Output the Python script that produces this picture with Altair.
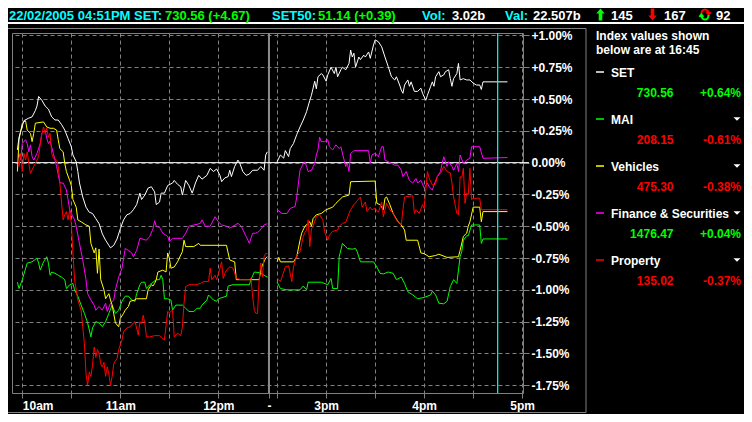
import altair as alt
import pandas as pd

FONT = "Liberation Sans"
BG = "#000000"
GRID = "#808080"

# ---------------- data ----------------
SERIES = ["SET", "MAI", "Vehicles", "Finance & Securities", "Property"]
SERIES_COLORS = ["#ffffff", "#00ff00", "#ffff00", "#ff00ff", "#ff0000"]
LAST_VALUES = ["730.56", "208.15", "475.30", "1476.47", "135.02"]
CHANGES = ["+0.64%", "-0.61%", "-0.38%", "+0.04%", "-0.37%"]

HEADER_DATE = "22/02/2005 04:51PM"
SET_QUOTE = "730.56 (+4.67)"
SET50_QUOTE = "51.14 (+0.39)"
VOLUME = "3.02b"
VALUE = "22.507b"
ADVANCES = "145"
DECLINES = "167"
UNCHANGED = "92"
SNAPSHOT = "16:45"

SET_DATA = [("9:57", .10), ("9:58", .20), ("10:01", .33), ("10:04", .35), ("10:06", .36), ("10:08", .41),
            ("10:09", .445), ("10:10", .52), ("10:12", .49), ("10:14", .445), ("10:16", .42), ("10:18", .36),
            ("10:20", .335), ("10:22", .335), ("10:24", .30), ("10:26", .256), ("10:28", .19), ("10:30", .125),
            ("10:31", .06), ("10:33", .007), ("10:34", -.07), ("10:35", -.16), ("10:37", -.27), ("10:39", -.35),
            ("10:41", -.39), ("10:43", -.40), ("10:45", -.44), ("10:47", -.48), ("10:49", -.56), ("10:51", -.61),
            ("10:53", -.65), ("10:54", -.67), ("10:56", -.65), ("10:58", -.60), ("11:00", -.52), ("11:02", -.45),
            ("11:04", -.41), ("11:06", -.40), ("11:08", -.37), ("11:10", -.33), ("11:12", -.24), ("11:13", -.29),
            ("11:15", -.255), ("11:17", -.20), ("11:19", -.19), ("11:21", -.23), ("11:22", -.33), ("11:24", -.31),
            ("11:25", -.24), ("11:27", -.24), ("11:29", -.18), ("11:32", -.16), ("11:33", -.14), ("11:35", -.17),
            ("11:37", -.19), ("11:38", -.255), ("11:40", -.14), ("11:42", -.18), ("11:44", -.24), ("11:46", -.16),
            ("11:48", -.10), ("11:50", -.13), ("11:53", -.10), ("11:55", -.045), ("11:57", -.07), ("11:59", -.05),
            ("12:01", -.10), ("12:02", -.15), ("12:04", -.12), ("12:06", -.11), ("12:07", -.06), ("12:08", -.11),
            ("12:10", -.03), ("12:12", .02), ("12:13", .00), ("12:15", -.07), ("12:17", -.10), ("12:19", -.09),
            ("12:21", -.06), ("12:24", -.06), ("12:26", -.03), ("12:28", -.06), ("12:29", .06), ("12:30", .085),
            ("14:30", .007), ("14:32", .06), ("14:34", .035), ("14:35", .095), ("14:37", .047), ("14:38", .11),
            ("14:40", .15), ("14:42", .22), ("14:44", .28), ("14:46", .335), ("14:48", .40), ("14:50", .49),
            ("14:51", .53), ("14:53", .64), ("14:54", .58), ("14:55", .675), ("14:57", .70), ("14:58", .69),
            ("15:00", .64), ("15:01", .69), ("15:03", .75), ("15:05", .70), ("15:06", .75), ("15:07", .675),
            ("15:09", .73), ("15:10", .75), ("15:12", .73), ("15:14", .78), ("15:15", .885), ("15:16", .83),
            ("15:17", .86), ("15:18", .75), ("15:20", .83), ("15:21", .81), ("15:23", .845), ("15:24", .83),
            ("15:26", .87), ("15:27", .82), ("15:29", .925), ("15:30", .965), ("15:32", .95), ("15:34", .91),
            ("15:36", .83), ("15:38", .755), ("15:40", .675), ("15:42", .65), ("15:43", .675), ("15:45", .61),
            ("15:46", .57), ("15:47", .545), ("15:48", .61), ("15:50", .65), ("15:51", .60), ("15:52", .635),
            ("15:54", .56), ("15:56", .56), ("15:58", .585), ("15:59", .545), ("16:01", .49), ("16:02", .53),
            ("16:04", .60), ("16:05", .635), ("16:06", .60), ("16:07", .675), ("16:09", .715), ("16:10", .675),
            ("16:12", .69), ("16:13", .715), ("16:15", .73), ("16:16", .66), ("16:17", .60), ("16:18", .66),
            ("16:20", .70), ("16:21", .78), ("16:22", .65), ("16:24", .66), ("16:26", .65), ("16:28", .65),
            ("16:30", .625), ("16:32", .61), ("16:34", .61), ("16:35", .575), ("16:36", .635), ("16:51", .635)]

MAI_DATA = [("9:57", -.94), ("9:58", -.99), ("10:00", -.92), ("10:03", -.79), ("10:06", -.78), ("10:09", -.75),
            ("10:10", -.79), ("10:11", -.845), ("10:13", -.78), ("10:15", -.74), ("10:16", -.79), ("10:17", -.885),
            ("10:18", -.86), ("10:20", -.87), ("10:22", -.885), ("10:24", -.90), ("10:26", -.92), ("10:27", -.99),
            ("10:29", -.96), ("10:31", -.95), ("10:32", -1.0), ("10:34", -1.05), ("10:36", -1.12), ("10:38", -1.185),
            ("10:40", -1.26), ("10:42", -1.37), ("10:43", -1.30), ("10:45", -1.25), ("10:47", -1.26), ("10:49", -1.29),
            ("10:51", -1.25), ("10:53", -1.185), ("10:55", -1.12), ("10:57", -1.185), ("10:59", -1.16), ("11:01", -1.09),
            ("11:03", -1.05), ("11:05", -1.05), ("11:07", -1.08), ("11:09", -1.09), ("11:10", -1.03), ("11:12", -.96),
            ("11:13", -.94), ("11:15", -.94), ("11:16", -.99), ("11:18", -.96), ("11:20", -.94), ("11:22", -.92),
            ("11:24", -.92), ("11:25", -.885), ("11:26", -.92), ("11:27", -1.07), ("11:29", -1.07), ("11:31", -1.08),
            ("11:32", -1.16), ("11:34", -1.12), ("11:38", -1.12), ("11:40", -1.145), ("11:42", -1.17), ("11:45", -1.17),
            ("11:47", -1.145), ("11:49", -1.145), ("11:50", -1.12), ("11:53", -1.08), ("11:54", -1.04), ("11:57", -1.08),
            ("11:59", -1.09), ("12:00", -1.07), ("12:05", -1.05), ("12:06", -.97), ("12:09", -.96), ("12:19", -.96),
            ("12:20", -.92), ("12:22", -.86), ("12:25", -.865), ("12:28", -.885), ("12:30", -.90),
            ("14:30", -.94), ("14:32", -.99), ("14:36", -1.0), ("14:44", -1.0), ("14:46", -.97), ("14:48", -1.0),
            ("14:49", -.94), ("14:57", -.94), ("15:01", -.96), ("15:03", -.91), ("15:04", -.99), ("15:07", -.99),
            ("15:08", -.74), ("15:10", -.635), ("15:13", -.675), ("15:16", -.68), ("15:18", -.675), ("15:19", -.70),
            ("15:21", -.78), ("15:29", -.78), ("15:31", -.82), ("15:33", -.87), ("15:35", -.875), ("15:38", -.86),
            ("15:41", -.87), ("15:43", -.92), ("15:46", -.90), ("15:48", -.95), ("15:50", -1.015), ("15:53", -1.04),
            ("15:56", -1.07), ("16:00", -1.06), ("16:04", -1.04), ("16:05", -1.01), ("16:07", -1.04), ("16:09", -1.105),
            ("16:12", -1.11), ("16:14", -1.09), ("16:16", -.975), ("16:18", -.92), ("16:20", -.95), ("16:22", -.74),
            ("16:23", -.70), ("16:24", -.61), ("16:26", -.575), ("16:27", -.575), ("16:29", -.49), ("16:34", -.49),
            ("16:35", -.635), ("16:36", -.60), ("16:51", -.60)]

VEH_DATA = [("9:57", -.07), ("9:58", .18), ("10:00", .31), ("10:02", .33), ("10:03", .256), ("10:05", .23),
            ("10:06", .165), ("10:07", .23), ("10:08", .31), ("10:13", .32), ("10:15", .28), ("10:17", .27),
            ("10:19", .27), ("10:21", .256), ("10:22", .18), ("10:23", .11), ("10:25", .085), ("10:26", -.006),
            ("10:27", -.07), ("10:29", -.14), ("10:30", -.18), ("10:31", -.29), ("10:33", -.35), ("10:34", -.45),
            ("10:36", -.465), ("10:39", -.49), ("10:41", -.50), ("10:42", -.635), ("10:44", -.71), ("10:45", -.67),
            ("10:46", -.87), ("10:47", -.68), ("10:48", -.92), ("10:50", -1.0), ("10:51", -1.07), ("10:53", -1.03),
            ("10:54", -1.08), ("10:55", -1.12), ("10:57", -1.26), ("10:59", -1.29), ("11:00", -1.225), ("11:02", -1.185),
            ("11:03", -1.16), ("11:05", -1.13), ("11:06", -1.09), ("11:09", -1.08), ("11:10", -1.07), ("11:16", -1.07),
            ("11:17", -1.0), ("11:19", -.96), ("11:20", -.97), ("11:21", -.95), ("11:22", -.92), ("11:23", -.86),
            ("11:26", -.845), ("11:28", -.86), ("11:29", -.71), ("11:30", -.75), ("11:31", -.83), ("11:33", -.82),
            ("11:35", -.78), ("11:38", -.70), ("11:39", -.61), ("11:40", -.66), ("11:45", -.66), ("11:48", -.635),
            ("11:49", -.65), ("12:05", -.65), ("12:06", -.71), ("12:07", -.765), ("12:10", -.78), ("12:11", -.92),
            ("12:25", -.92), ("12:26", -.845), ("12:27", -.805), ("12:29", -.75), ("12:30", -.74),
            ("14:30", -.78), ("14:31", -.745), ("14:32", -.78), ("14:40", -.78), ("14:42", -.74), ("14:44", -.61),
            ("14:45", -.555), ("14:47", -.50), ("14:50", -.465), ("14:51", -.50), ("14:52", -.44), ("14:54", -.41),
            ("14:57", -.40), ("15:00", -.37), ("15:04", -.35), ("15:06", -.32), ("15:10", -.27), ("15:14", -.255),
            ("15:15", -.15), ("15:30", -.145), ("15:31", -.32), ("15:33", -.33), ("15:35", -.37), ("15:36", -.28),
            ("15:37", -.27), ("15:39", -.33), ("15:41", -.40), ("15:44", -.465), ("15:46", -.49), ("15:48", -.53),
            ("15:49", -.61), ("15:56", -.61), ("15:58", -.71), ("16:00", -.715), ("16:03", -.74), ("16:07", -.73),
            ("16:09", -.72), ("16:14", -.745), ("16:21", -.74), ("16:22", -.69), ("16:24", -.58), ("16:26", -.555),
            ("16:27", -.50), ("16:28", -.465), ("16:30", -.35), ("16:34", -.35), ("16:35", -.465), ("16:36", -.385),
            ("16:51", -.385)]

FIN_DATA = [("9:57", .02), ("9:58", .07), ("9:59", .02), ("10:00", .15), ("10:02", .18), ("10:03", .15),
            ("10:04", .085), ("10:05", .14), ("10:06", .046), ("10:07", .02), ("10:09", .073), ("10:11", .15),
            ("10:12", .23), ("10:14", .256), ("10:15", .19), ("10:16", .15), ("10:17", .17), ("10:19", .073),
            ("10:20", .02), ("10:21", -.03), ("10:23", -.16), ("10:25", -.16), ("10:27", -.215), ("10:28", -.29),
            ("10:29", -.37), ("10:30", -.40), ("10:32", -.45), ("10:33", -.50), ("10:35", -.635), ("10:37", -.765),
            ("10:39", -.92), ("10:40", -1.03), ("10:42", -1.08), ("10:44", -1.12), ("10:45", -1.16), ("10:47", -1.13),
            ("10:49", -1.16), ("10:51", -1.105), ("10:52", -1.17), ("10:54", -1.105), ("10:56", -1.08), ("10:57", -1.0),
            ("10:59", -.90), ("11:01", -.83), ("11:03", -.675), ("11:05", -.69), ("11:07", -.71), ("11:08", -.74),
            ("11:10", -.69), ("11:12", -.595), ("11:16", -.61), ("11:18", -.58), ("11:20", -.52), ("11:21", -.457),
            ("11:22", -.50), ("11:24", -.51), ("11:26", -.555), ("11:29", -.58), ("11:30", -.62), ("11:32", -.595),
            ("11:38", -.595), ("11:40", -.555), ("11:42", -.50), ("11:45", -.49), ("11:47", -.485), ("11:49", -.477),
            ("11:50", -.45), ("11:52", -.50), ("11:55", -.50), ("11:58", -.425), ("12:00", -.465), ("12:02", -.49),
            ("12:05", -.50), ("12:07", -.515), ("12:09", -.50), ("12:12", -.477), ("12:14", -.50), ("12:17", -.58),
            ("12:19", -.635), ("12:21", -.555), ("12:23", -.555), ("12:25", -.54), ("12:28", -.49), ("12:30", -.48),
            ("14:30", -.37), ("14:33", -.40), ("14:36", -.40), ("14:38", -.36), ("14:41", -.345), ("14:42", -.27),
            ("14:44", -.06), ("14:46", -.006), ("14:47", .007), ("14:48", -.03), ("14:49", -.07), ("14:51", -.06),
            ("14:53", -.006), ("14:54", .06), ("14:55", .10), ("14:56", .20), ("14:57", .165), ("14:59", .165),
            ("15:01", .18), ("15:02", .125), ("15:04", .10), ("15:05", .12), ("15:06", .14), ("15:08", .11),
            ("15:09", .125), ("15:11", .02), ("15:12", -.03), ("15:13", -.006), ("15:14", -.07), ("15:15", .073),
            ("15:17", .094), ("15:26", .094), ("15:27", -.006), ("15:28", .06), ("15:30", .073), ("15:32", .046),
            ("15:34", .125), ("15:35", .125), ("15:36", .02), ("15:38", .007), ("15:40", -.006), ("15:42", -.02),
            ("15:44", -.02), ("15:46", -.06), ("15:47", -.11), ("15:49", -.07), ("15:51", -.14), ("15:53", -.16),
            ("15:55", -.125), ("15:56", -.16), ("15:58", -.14), ("16:00", -.20), ("16:02", -.16), ("16:03", -.19),
            ("16:05", -.215), ("16:06", -.176), ("16:08", -.11), ("16:10", -.07), ("16:11", -.006), ("16:12", .046),
            ("16:14", -.03), ("16:15", .007), ("16:17", -.03), ("16:18", -.06), ("16:20", -.006), ("16:21", -.07),
            ("16:22", .06), ("16:24", -.006), ("16:26", .02), ("16:28", .034), ("16:29", .125), ("16:34", .125),
            ("16:36", .034), ("16:51", .04)]

PROP_DATA = [("9:57", .046), ("9:58", -.03), ("9:59", .073), ("10:00", -.07), ("10:01", .073), ("10:02", .02),
             ("10:03", .085), ("10:04", -.006), ("10:05", -.085), ("10:07", -.03), ("10:09", .02), ("10:10", .046),
             ("10:11", .15), ("10:12", .23), ("10:13", .28), ("10:14", .23), ("10:15", .27), ("10:16", .20),
             ("10:17", .23), ("10:18", .073), ("10:19", .034), ("10:21", .02), ("10:22", -.03), ("10:23", -.16),
             ("10:24", -.31), ("10:25", -.45), ("10:26", -.41), ("10:27", -.385), ("10:28", -.45), ("10:29", -.37),
             ("10:30", -.477), ("10:31", -.71), ("10:32", -.92), ("10:33", -1.0), ("10:34", -1.08), ("10:36", -1.16),
             ("10:37", -1.29), ("10:38", -1.42), ("10:39", -1.66), ("10:40", -1.75), ("10:41", -1.645), ("10:42", -1.68),
             ("10:43", -1.59), ("10:44", -1.45), ("10:45", -1.53), ("10:46", -1.47), ("10:47", -1.50), ("10:48", -1.58),
             ("10:49", -1.605), ("10:50", -1.57), ("10:51", -1.68), ("10:52", -1.605), ("10:53", -1.66), ("10:54", -1.75),
             ("10:55", -1.68), ("10:56", -1.58), ("10:58", -1.54), ("10:59", -1.47), ("11:01", -1.395), ("11:02", -1.33),
             ("11:04", -1.30), ("11:06", -1.29), ("11:08", -1.26), ("11:09", -1.25), ("11:10", -1.30), ("11:11", -1.355),
             ("11:12", -1.25), ("11:13", -1.27), ("11:14", -1.20), ("11:15", -1.26), ("11:16", -1.37), ("11:18", -1.37),
             ("11:21", -1.36), ("11:24", -1.36), ("11:25", -1.37), ("11:27", -1.395), ("11:28", -1.28), ("11:29", -1.17),
             ("11:30", -1.18), ("11:32", -1.16), ("11:33", -1.37), ("11:35", -1.34), ("11:37", -1.36), ("11:38", -1.29),
             ("11:39", -1.105), ("11:40", -.975), ("11:42", -.96), ("11:46", -.96), ("11:49", -.95), ("11:51", -.935),
             ("11:54", -.935), ("11:55", -.83), ("11:56", -.92), ("11:58", -.885), ("11:59", -.92), ("12:01", -.83),
             ("12:02", -.78), ("12:03", -.91), ("12:04", -.87), ("12:05", -.845), ("12:07", -.82), ("12:09", -.83),
             ("12:11", -.91), ("12:14", -.92), ("12:19", -.92), ("12:20", -.91), ("12:21", -1.05), ("12:22", -1.16),
             ("12:23", -1.185), ("12:24", -1.185), ("12:25", -.92), ("12:26", -.79), ("12:27", -.90), ("12:28", -.74),
             ("12:29", -.715), ("12:30", -.715),
             ("14:30", -.91), ("14:32", -.935), ("14:34", -.86), ("14:35", -.82), ("14:37", -.81), ("14:39", -.935),
             ("14:40", -.82), ("14:42", -.73), ("14:44", -.70), ("14:46", -.58), ("14:47", -.55), ("14:48", -.53),
             ("14:49", -.45), ("14:50", -.66), ("14:51", -.52), ("14:52", -.50), ("14:54", -.425), ("14:56", -.41),
             ("14:58", -.45), ("14:59", -.54), ("15:01", -.61), ("15:02", -.57), ("15:04", -.54), ("15:07", -.53),
             ("15:08", -.50), ("15:10", -.477), ("15:12", -.47), ("15:14", -.40), ("15:15", -.37), ("15:17", -.33),
             ("15:19", -.30), ("15:21", -.27), ("15:22", -.35), ("15:24", -.31), ("15:25", -.385), ("15:27", -.35),
             ("15:28", -.37), ("15:30", -.36), ("15:32", -.39), ("15:34", -.31), ("15:35", -.425), ("15:37", -.32),
             ("15:39", -.37), ("15:41", -.40), ("15:43", -.45), ("15:46", -.49), ("15:47", -.37), ("15:48", -.27),
             ("15:53", -.26), ("15:54", -.40), ("15:55", -.37), ("15:57", -.40), ("15:59", -.33), ("16:00", -.36),
             ("16:02", -.07), ("16:03", -.12), ("16:05", -.176), ("16:07", -.17), ("16:08", -.11), ("16:10", -.085),
             ("16:12", -.03), ("16:14", -.07), ("16:16", -.08), ("16:17", -.16), ("16:18", -.27), ("16:20", -.40),
             ("16:21", -.41), ("16:22", -.11), ("16:23", -.12), ("16:24", -.045), ("16:25", -.32), ("16:26", -.24),
             ("16:27", -.25), ("16:28", -.045), ("16:29", -.29), ("16:30", -.28), ("16:34", -.28), ("16:35", -.37),
             ("16:51", -.37)]

SERIES_DATA = [SET_DATA, MAI_DATA, VEH_DATA, FIN_DATA, PROP_DATA]
DRAW_ORDER = [1, 3, 2, 4, 0]

X_TICK_TIMES = ["10:00", "10:30", "11:00", "11:30", "12:00", "12:31", "14:30", "15:00",
                "15:30", "16:00", "16:30", "17:00"]
X_TICK_LABELS = ["10am", "", "11am", "", "12pm", "-", "", "3pm", "", "4pm", "", "5pm"]
Y_TICKS = [1.0, 0.75, 0.5, 0.25, 0.0, -0.25, -0.5, -0.75, -1.0, -1.25, -1.5, -1.75]

AFTERNOON_START = 156  # axis minute where the 14:30 session is drawn (lunch break compressed)


def axis_minute(t):
    h, m = (int(p) for p in t.split(":"))
    tot = h * 60 + m
    if h < 13:
        return tot - 600
    return tot - 870 + AFTERNOON_START


def series_frame(name, data):
    rows = []
    for i, (t, v) in enumerate(data):
        rows.append({"series": name, "t": axis_minute(t), "v": v,
                     "session": "am" if int(t.split(":")[0]) < 13 else "pm", "idx": i})
    return pd.DataFrame(rows)


# ---------------- layout helpers (page px -> view px) ----------------
VIEW_LEFT, VIEW_TOP, VIEW_W, VIEW_H = 12, 33, 511, 360


def vx(px):
    return px - VIEW_LEFT


def vy(py):
    return py - VIEW_TOP


ONE = pd.DataFrame({"a": [0]})


def text(s, px, py, color, size=12, align="left", baseline="alphabetic"):
    return alt.Chart(pd.DataFrame({"s": [s]})).mark_text(
        align=align, baseline=baseline, font=FONT, fontWeight="bold", fontSize=size, color=color
    ).encode(x=alt.value(vx(px)), y=alt.value(vy(py)), text="s:N")


def hline(px1, px2, py, color, width=1.0):
    return alt.Chart(ONE).mark_rule(color=color, strokeWidth=width).encode(
        x=alt.value(vx(px1)), x2=alt.value(vx(px2)), y=alt.value(vy(py)))


def symbol(path, px, py, color, size, filled=True, sw=1.0):
    return alt.Chart(ONE).mark_point(shape=path, size=size, filled=filled, color=color,
                                     opacity=1, strokeWidth=sw).encode(
        x=alt.value(vx(px)), y=alt.value(vy(py)))


# ---------------- scales / axes ----------------
x_label_expr = " : ".join(
    f"datum.value == {axis_minute(t)} ? '{lab}'" for t, lab in zip(X_TICK_TIMES, X_TICK_LABELS)
) + " : ''"

x_axis = alt.Axis(
    values=[axis_minute(t) for t in X_TICK_TIMES], labelExpr=x_label_expr, grid=True,
    gridColor=GRID, gridDash=[4, 3], gridWidth=1, tickColor=GRID, tickSize=5, domain=False,
    labelColor="#ffffff", labelFont=FONT, labelFontSize=12, labelFontWeight="bold", labelPadding=2,
    labelAlign=alt.condition("datum.value == 0", alt.value("left"), alt.value("center")),
    labelOverlap=False, title=None)

y_axis = alt.Axis(
    orient="right", values=Y_TICKS,
    labelExpr="(datum.value > 0.001 ? '+' : (datum.value < -0.001 ? '-' : '')) + format(abs(datum.value), '.2f') + '%'",
    grid=True, gridColor=GRID, gridDash=[4, 3], gridWidth=1, tickColor=GRID, tickSize=6, domain=False,
    labelColor="#ffffff", labelFont=FONT, labelFontSize=12, labelFontWeight="bold", labelPadding=2,
    labelOverlap=False, title=None)

X = alt.X("t:Q", scale=alt.Scale(domain=[-6.3, 306.5], nice=False, zero=False), axis=x_axis)
Y = alt.Y("v:Q", scale=alt.Scale(domain=[-1.811, 1.019], nice=False, zero=False), axis=y_axis)

layers = []

# panel frame and header separator
layers.append(alt.Chart(ONE).mark_rect(fillOpacity=0, stroke=GRID, strokeWidth=1).encode(
    x=alt.value(vx(7)), x2=alt.value(vx(586)), y=alt.value(vy(28.5)), y2=alt.value(vy(412.5))))
layers.append(hline(0, 752, 23, "#ffffff", 2))

# lunch break marker
layers.append(alt.Chart(pd.DataFrame({"t": [axis_minute("12:31")]})).mark_rule(
    color="#8c8c8c", strokeWidth=2).encode(x=X))

# zero line
layers.append(alt.Chart(pd.DataFrame({"v": [0.0]})).mark_rule(color="#ffffff", strokeWidth=1).encode(
    y=Y, x=alt.value(0), x2=alt.value(VIEW_W + 6)))

# series
for k in DRAW_ORDER:
    df = series_frame(SERIES[k], SERIES_DATA[k])
    layers.append(alt.Chart(df).mark_line(color=SERIES_COLORS[k], strokeWidth=1).encode(
        x=X, y=Y, detail="session:N", order="idx:Q"))

# snapshot line
layers.append(alt.Chart(pd.DataFrame({"t": [axis_minute(SNAPSHOT)]})).mark_rule(
    color="#00ffff", strokeWidth=1.2).encode(x=X))

# header
CYAN, GREEN, WHITE, RED = "#00ffff", "#00ff00", "#ffffff", "#ff0000"
HB = 19.5
layers += [
    text(HEADER_DATE, 9, HB, CYAN, 13),
    text("SET:", 134, HB, CYAN, 13),
    text(SET_QUOTE, 165, HB, GREEN, 13),
    text("SET50:", 272, HB, CYAN, 13),
    text(SET50_QUOTE, 318, HB, GREEN, 13),
    text("Vol:", 422, HB, CYAN, 13),
    text(VOLUME, 452, HB, WHITE, 13),
    text("Val:", 505, HB, CYAN, 13),
    text(VALUE, 533, HB, WHITE, 13),
    text(ADVANCES, 611, HB, WHITE, 13),
    text(DECLINES, 664, HB, WHITE, 13),
    text(UNCHANGED, 716, HB, WHITE, 13),
]
UP = "M0,-1L0.7,-0.15L0.3,-0.15L0.3,1L-0.3,1L-0.3,-0.15L-0.7,-0.15Z"
DOWN = "M0,1L0.7,0.15L0.3,0.15L0.3,-1L-0.3,-1L-0.3,0.15L-0.7,0.15Z"
ICON_Y = 14.5
layers.append(symbol(UP, 600.5, ICON_Y, GREEN, 144))
layers.append(symbol(DOWN, 652.5, ICON_Y, RED, 144))
layers.append(symbol("M-0.6,-0.1A0.6,0.75 0 0 1 0.6,-0.1M0.25,-0.4L0.6,0L0.95,-0.4", 705, ICON_Y, RED, 144,
                     filled=False, sw=2))
layers.append(symbol("M0.6,0.1A0.6,0.75 0 0 1 -0.6,0.1M-0.25,0.4L-0.6,0L-0.95,0.4", 705, ICON_Y, GREEN, 144,
                     filled=False, sw=2))

# legend panel
layers.append(text("Index values shown", 596, 40, WHITE, 12))
layers.append(text(f"below are at {SNAPSHOT}", 596, 53.5, WHITE, 12))
TRI = "M-1,-0.5L1,-0.5L0,0.5Z"
for i, name in enumerate(SERIES):
    cy = 72 + 47 * i
    layers.append(hline(596, 604, cy, SERIES_COLORS[i], 1.5))
    layers.append(text(name, 611, cy + 0.5, WHITE, 12, baseline="middle"))
    if i > 0:
        layers.append(symbol(TRI, 737, cy, WHITE, 49))
    col = GREEN if CHANGES[i].startswith("+") else RED
    layers.append(text(LAST_VALUES[i], 673.5, cy + 21, col, 12, align="right", baseline="middle"))
    layers.append(text(CHANGES[i], 741, cy + 21, col, 12, align="right", baseline="middle"))

chart = alt.layer(*layers).properties(
    width=VIEW_W, height=VIEW_H,
    padding={"left": 4, "top": 25, "right": 221, "bottom": 21},
    autosize=alt.AutoSizeParams(type="none"),
    background=BG,
).configure_view(stroke=GRID, strokeWidth=1, fill=BG)

chart.save("out.html", embed_options={"renderer": "svg", "actions": False})
